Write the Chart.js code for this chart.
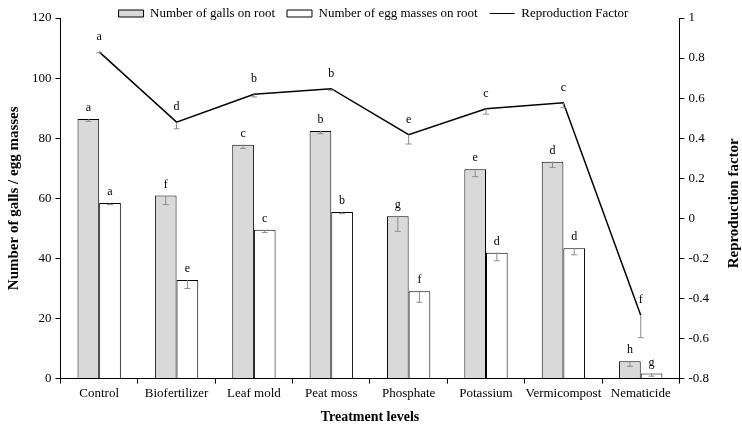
<!DOCTYPE html>
<html>
<head>
<meta charset="utf-8">
<script src="https://cdn.jsdelivr.net/npm/chart.js@4.4.0/dist/chart.umd.min.js"></script>
<style>
  html, body { margin: 0; padding: 0; background: #fff; }
</style>
</head>
<body>
<canvas id="comboChart" width="742" height="428"></canvas>
<script>
const treatments = ['Control', 'Biofertilizer', 'Leaf mold', 'Peat moss', 'Phosphate', 'Potassium', 'Vermicompost', 'Nematicide'];

const galls = [86.4, 60.9, 77.8, 82.4, 54.0, 69.7, 72.2, 5.8];
const gallsErr = [0.8, 3.0, 1.2, 0.9, 5.0, 2.5, 1.9, 1.7];
const gallLetters = ['a', 'f', 'c', 'b', 'g', 'e', 'd', 'h'];

const eggMasses = [58.4, 32.8, 49.5, 55.4, 29.1, 41.9, 43.4, 1.7];
const eggErr = [0.5, 2.8, 0.9, 0.5, 3.7, 2.7, 2.2, 0.9];
const eggLetters = ['a', 'e', 'c', 'b', 'f', 'd', 'd', 'g'];

const reproFactor = [0.831, 0.48, 0.619, 0.647, 0.418, 0.547, 0.577, -0.484];
const reproErr = [0.005, 0.033, 0.013, 0.008, 0.047, 0.027, 0.025, 0.112];
const reproLetters = ['a', 'd', 'b', 'b', 'e', 'c', 'c', 'f'];

const leftTicks = [0, 20, 40, 60, 80, 100, 120];
const rightTicks = [-0.8, -0.6, -0.4, -0.2, 0, 0.2, 0.4, 0.6, 0.8, 1];

Chart.defaults.font.family = "'Liberation Serif', 'Times New Roman', serif";
Chart.defaults.font.size = 13;
Chart.defaults.color = '#000';

// error bars (minus side only) and significance letters
const errorBarsAndLetters = {
  id: 'errorBarsAndLetters',
  afterDatasetsDraw(chart) {
    const ctx = chart.ctx;
    const sets = [
      { idx: 0, err: gallsErr, letters: gallLetters, gap: 11 },
      { idx: 1, err: eggErr, letters: eggLetters, gap: 11 },
      { idx: 2, err: reproErr, letters: reproLetters, gap: 15 }
    ];
    ctx.save();
    ctx.font = "12px 'Liberation Serif', serif";
    ctx.textAlign = 'center';
    ctx.textBaseline = 'middle';
    sets.forEach(s => {
      const meta = chart.getDatasetMeta(s.idx);
      const scale = chart.scales[meta.yAxisID];
      const values = chart.data.datasets[s.idx].data;
      meta.data.forEach((el, i) => {
        const low = scale.getPixelForValue(values[i] - s.err[i]);
        ctx.strokeStyle = '#8c8c8c';
        ctx.lineWidth = 1;
        ctx.beginPath();
        ctx.moveTo(el.x, el.y);
        ctx.lineTo(el.x, low);
        ctx.moveTo(el.x - 3, low);
        ctx.lineTo(el.x + 3, low);
        ctx.stroke();
        ctx.fillStyle = '#000';
        ctx.fillText(s.letters[i], el.x, el.y - s.gap);
      });
    });
    ctx.restore();
  }
};

// right axis title reads bottom-to-top like the left one
const rightTitle = {
  id: 'rightTitle',
  afterDraw(chart) {
    const ctx = chart.ctx;
    const area = chart.chartArea;
    ctx.save();
    ctx.translate(734, (area.top + area.bottom) / 2 + 5);
    ctx.rotate(-Math.PI / 2);
    ctx.font = "bold 15px 'Liberation Serif', serif";
    ctx.fillStyle = '#000';
    ctx.textAlign = 'center';
    ctx.textBaseline = 'middle';
    ctx.fillText('Reproduction factor', 0, 0);
    ctx.restore();
  }
};

// legend sits partly over the plot top, like the original
const legendFit = {
  id: 'legendFit',
  beforeInit(chart) {
    const fit = chart.legend.fit;
    chart.legend.fit = function () {
      fit.call(this);
      this.height = 23;
    };
  },
  afterLayout(chart) {
    // keep descenders from being clipped
    chart.legend.bottom += 8;
  }
};

new Chart(document.getElementById('comboChart'), {
  type: 'bar',
  data: {
    labels: treatments,
    datasets: [
      {
        label: 'Number of galls on root',
        data: galls,
        backgroundColor: '#d9d9d9',
        borderColor: '#000',
        borderWidth: 1,
        yAxisID: 'y',
        categoryPercentage: 0.56,
        barPercentage: 1
      },
      {
        label: 'Number of egg masses on root',
        data: eggMasses,
        backgroundColor: '#fff',
        borderColor: '#000',
        borderWidth: 1,
        yAxisID: 'y',
        categoryPercentage: 0.56,
        barPercentage: 1
      },
      {
        type: 'line',
        label: 'Reproduction Factor',
        data: reproFactor,
        borderColor: '#000',
        backgroundColor: '#000',
        borderWidth: 1.5,
        pointRadius: 0,
        tension: 0,
        yAxisID: 'y1'
      }
    ]
  },
  options: {
    responsive: false,
    animation: false,
    layout: { padding: { top: -5, left: 5, right: 0, bottom: 1 } },
    plugins: {
      tooltip: { enabled: false },
      legend: {
        position: 'top',
        labels: {
          usePointStyle: true,
          pointStyleWidth: 25,
          boxHeight: 7,
          padding: 12,
          font: { size: 13 },
          generateLabels(chart) {
            const items = Chart.defaults.plugins.legend.labels.generateLabels(chart);
            items.forEach((it, i) => {
              it.pointStyle = i === 2 ? 'line' : 'rect';
              it.lineWidth = 1;
            });
            return items;
          }
        }
      }
    },
    scales: {
      x: {
        grid: { drawOnChartArea: false, drawTicks: true, tickLength: 5, color: '#000', offset: true },
        border: { display: true, color: '#000', width: 1 },
        ticks: { padding: 2, maxRotation: 0, minRotation: 0, autoSkip: false, font: { size: 13 } },
        title: { display: true, text: 'Treatment levels', font: { size: 14, weight: 'bold' }, padding: { top: 6, bottom: 1 } }
      },
      y: {
        position: 'left',
        min: 0,
        max: 120,
        afterBuildTicks(scale) { scale.ticks = leftTicks.map(v => ({ value: v })); },
        grid: { drawOnChartArea: false, drawTicks: true, tickLength: 5, color: '#000' },
        border: { display: true, color: '#000', width: 1 },
        ticks: { padding: 4, font: { size: 13 } },
        title: { display: true, text: 'Number of galls / egg masses', font: { size: 15, weight: 'bold' }, padding: { top: 0, bottom: 5 } }
      },
      y1: {
        position: 'right',
        min: -0.8,
        max: 1,
        afterBuildTicks(scale) { scale.ticks = rightTicks.map(v => ({ value: v })); },
        afterFit(scale) { scale.width += 29; },
        grid: { drawOnChartArea: false, drawTicks: true, tickLength: 5, color: '#000' },
        border: { display: true, color: '#000', width: 1 },
        ticks: { padding: 4, font: { size: 13 }, callback: v => String(+v.toFixed(1)) }
      }
    }
  },
  plugins: [legendFit, errorBarsAndLetters, rightTitle]
});
</script>
</body>
</html>
